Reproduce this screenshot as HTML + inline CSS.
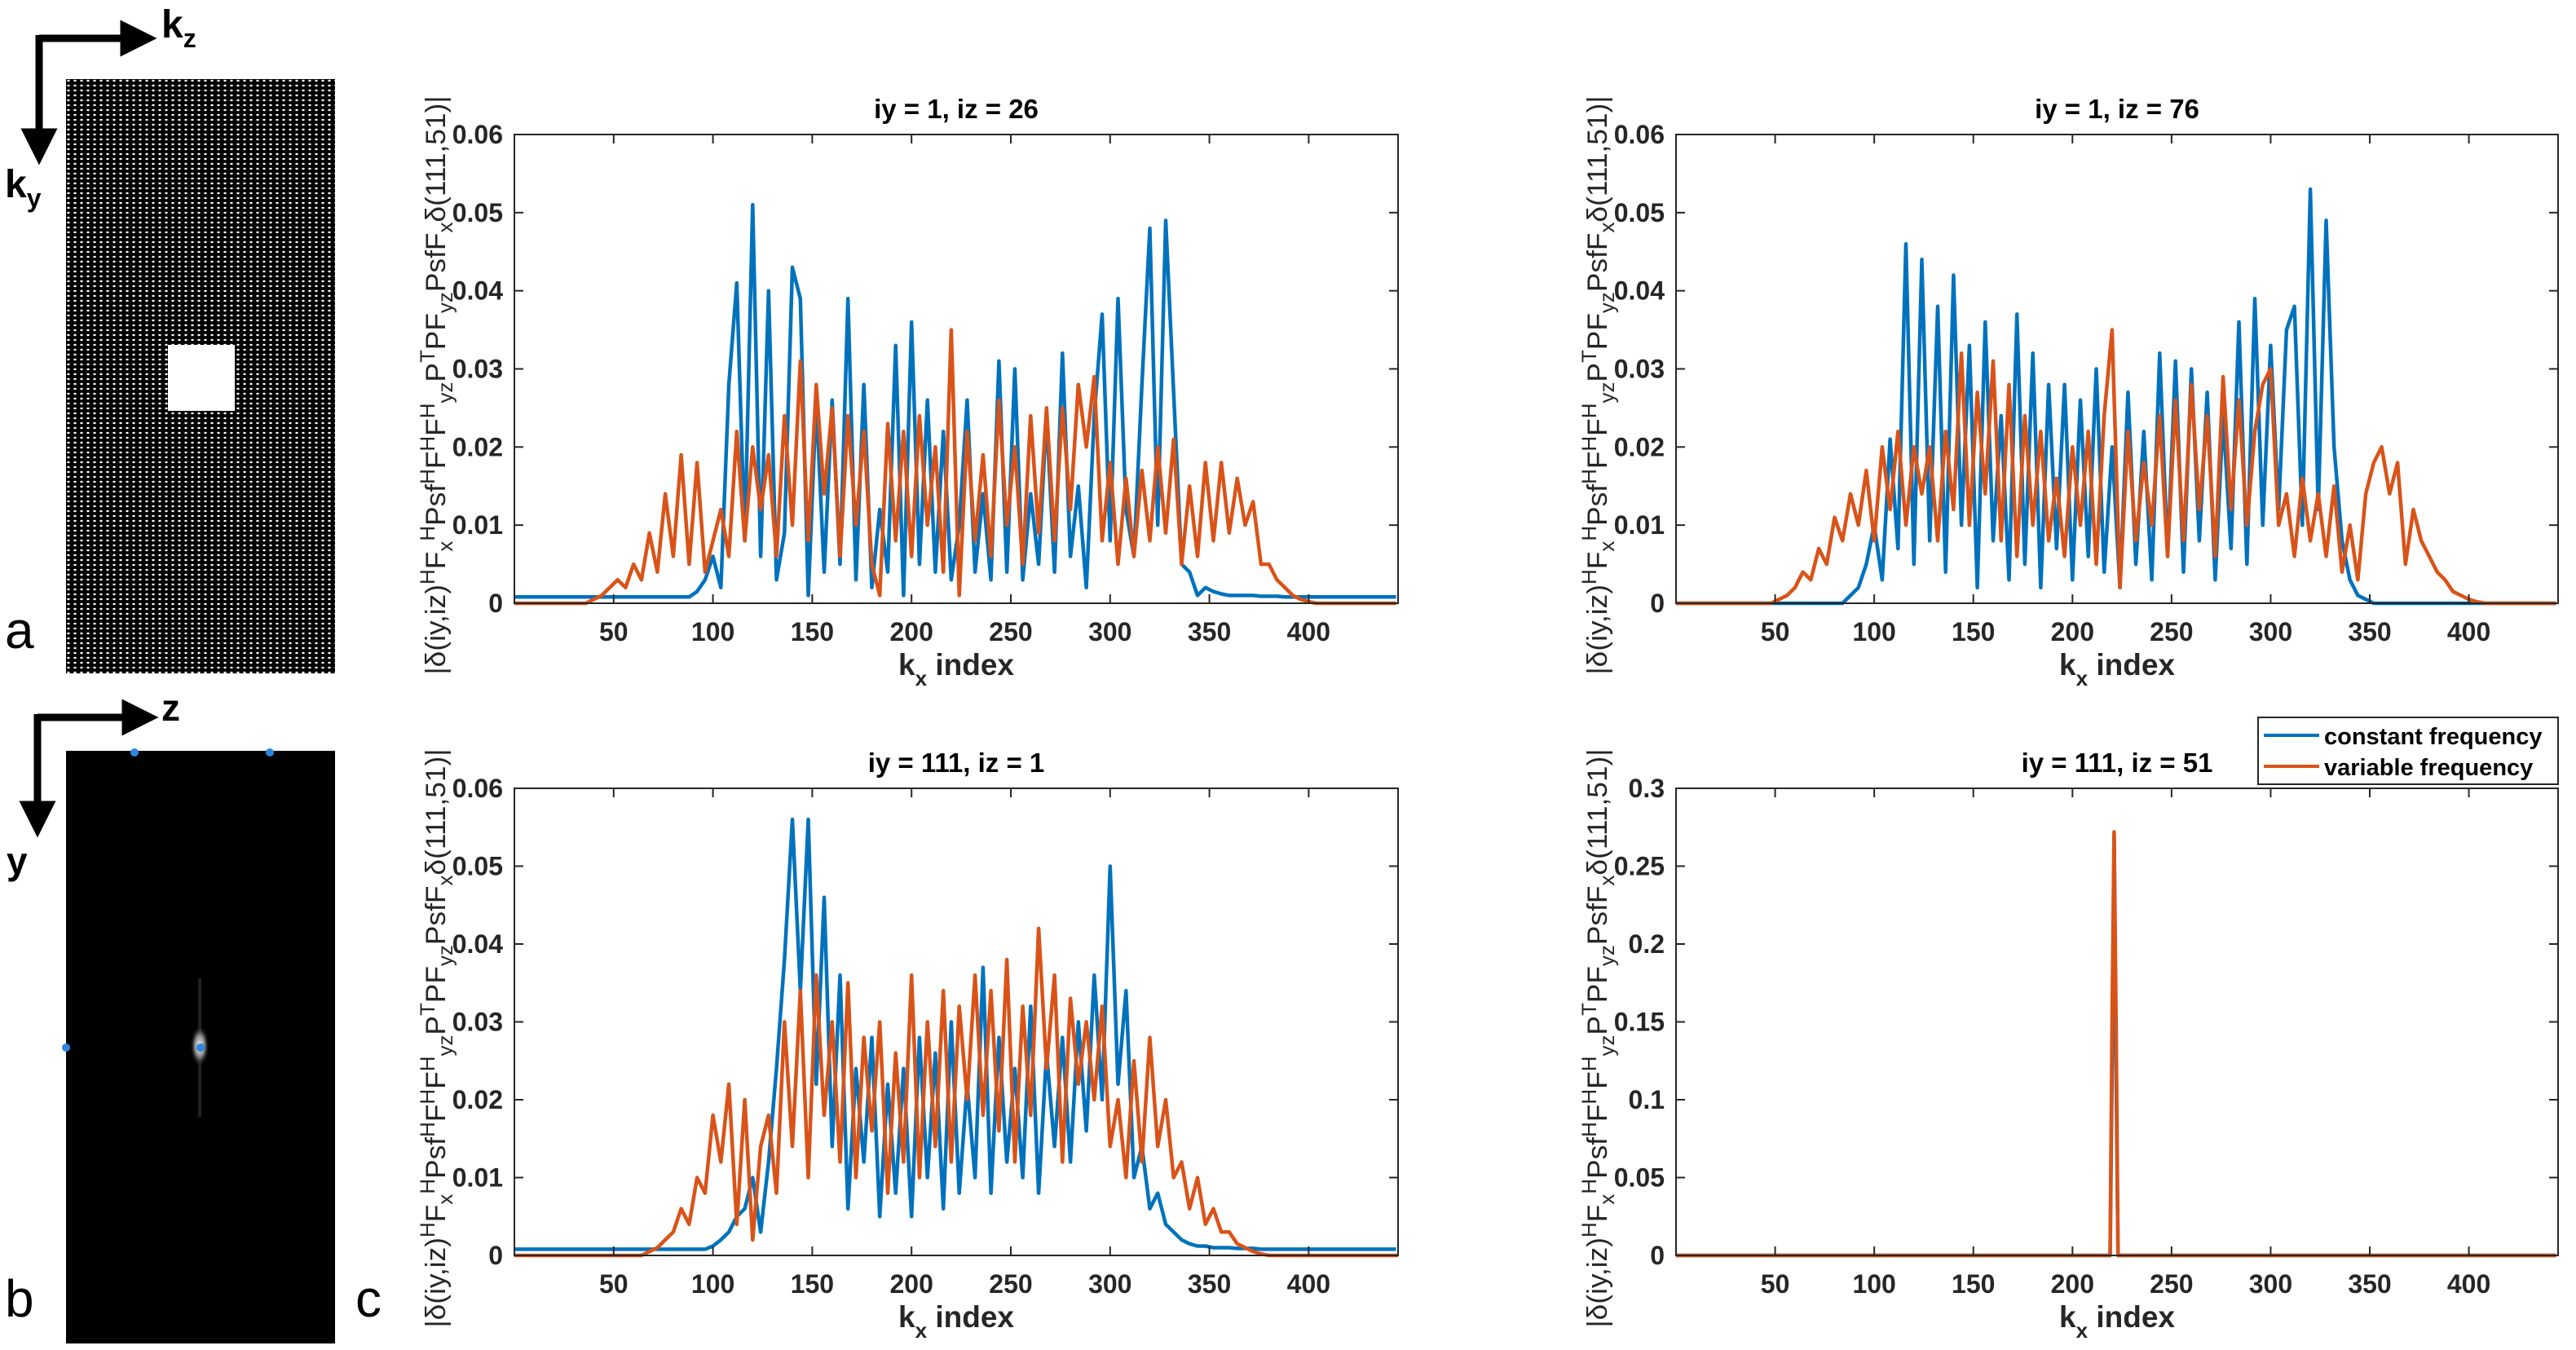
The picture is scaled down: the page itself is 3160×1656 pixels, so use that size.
<!DOCTYPE html>
<html><head><meta charset="utf-8">
<style>
html,body{margin:0;padding:0;background:#fff;}
svg{display:block;font-family:"Liberation Sans",Arial,sans-serif;}
</style></head>
<body>
<svg id="fig" width="3160" height="1656" viewBox="0 0 3160 1656">
<defs>
<pattern id="dots" width="8" height="6" patternUnits="userSpaceOnUse">
<rect width="8" height="6" fill="#000"/>
<ellipse cx="4" cy="3" rx="1.7" ry="1.2" fill="#fff"/>
</pattern>
<marker id="ah" markerWidth="5" markerHeight="5" refX="2.5" refY="2.5" orient="auto" markerUnits="strokeWidth">
<path d="M0,0 L5,2.5 L0,5 z" fill="#000"/>
</marker>
<radialGradient id="spot" cx="50%" cy="50%" r="50%">
<stop offset="0" stop-color="#fff"/><stop offset="0.5" stop-color="#888"/><stop offset="1" stop-color="#000" stop-opacity="0"/>
</radialGradient>
</defs>

<!-- panel a -->
<g>
<rect x="81" y="97" width="330" height="729" fill="url(#dots)"/>
<rect x="206" y="423" width="82" height="81" fill="#fff"/>
<line x1="48" y1="47" x2="170" y2="47" stroke="#000" stroke-width="9" marker-end="url(#ah)"/>
<line x1="48" y1="43" x2="48" y2="180" stroke="#000" stroke-width="9" marker-end="url(#ah)"/>
<text x="198" y="46" font-size="48" font-weight="bold">k<tspan font-size="32" dy="12">z</tspan></text>
<text x="6" y="242" font-size="48" font-weight="bold">k<tspan font-size="32" dy="12">y</tspan></text>
<text x="6" y="795" font-size="64">a</text>
</g>

<!-- panel b -->
<g>
<rect x="81" y="921" width="330" height="727" fill="#000"/>
<rect x="243" y="1200" width="4" height="170" fill="#222"/>
<ellipse cx="245" cy="1283" rx="12" ry="26" fill="url(#spot)"/>
<circle cx="165" cy="923" r="5" fill="#2e86de"/>
<circle cx="331" cy="923" r="5" fill="#2e86de"/>
<circle cx="81" cy="1285" r="5" fill="#2e86de"/>
<circle cx="246" cy="1285" r="5" fill="#2e86de"/>
<line x1="46" y1="880" x2="172" y2="880" stroke="#000" stroke-width="9" marker-end="url(#ah)"/>
<line x1="46" y1="876" x2="46" y2="1005" stroke="#000" stroke-width="9" marker-end="url(#ah)"/>
<text x="198" y="884" font-size="46" font-weight="bold">z</text>
<text x="8" y="1072" font-size="46" font-weight="bold">y</text>
<text x="6" y="1615" font-size="64">b</text>
<text x="436" y="1615" font-size="64">c</text>
</g>

<g id="plots"></g>
</svg>

<script>
// ---- data (values in units of 1e-3; kx index step 4 from 0 unless stated) ----
const xTickLabels = [50,100,150,200,250,300,350,400];
const yTickLabelsA = [0,0.01,0.02,0.03,0.04,0.05,0.06];
const yTickLabelsB = [0,0.05,0.1,0.15,0.2,0.25,0.3];
const titles = ["iy = 1, iz = 26","iy = 1, iz = 76","iy = 111, iz = 1","iy = 111, iz = 51"];
const legendLabels = ["constant frequency","variable frequency"];

const blue1 = [0.8,0.8,0.8,0.8,0.8,0.8,0.8,0.8,0.8,0.8,0.8,0.8,0.8,0.8,0.8,0.8,0.8,0.8,0.8,0.8,0.8,0.8,0.8,
1.5,3,6,2,28,41,8,51,6,40,3,9,43,39,1,26,4,26,5,39,3,28,2,12,4,33,1,36,5,26,4,22,3,10,26,4,14,3,31,4,30,3,14,5,24,4,32,6,15,2,24,37,8,39,12,6,28,48,10,49,27,5,4,1,2,1.5,1.2,
1,1,1,1,0.9,0.9,0.9,0.8,0.8,0.8,0.8,0.8,0.8,0.8,0.8,0.8,0.8,0.8,0.8,0.8,0.8,0.8];
const orange1 = [0,0,0,0,0,0,0,0,0,0,
0.5,1,2,3,2,5,3,9,4,14,6,19,5,18,4,8,12,6,22,8,20,12,19,6,24,10,31,8,28,14,25,6,24,10,22,5,1,23,8,22,6,24,10,20,4,35,1,22,8,19,6,26,10,20,5,24,9,25,8,25,12,28,20,29,8,18,5,16,6,17,8,20,9,21,5,15,6,18,8,18,9,16,10,13,5,5,3,2,1,0.5,0.2,
0,0,0,0,0,0,0,0,0,0,0];
const blue2 = [0,0,0,0,0,0,0,0,0,0,0,0,0,0,0,0,0,0,0,0,0,0,
1,2,5,10,3,21,7,46,5,44,8,38,4,42,10,33,2,36,8,24,3,37,5,32,2,28,7,28,3,26,6,30,4,20,2,27,5,22,3,32,6,31,4,30,8,27,3,24,7,36,5,39,10,33,12,35,38,10,53,12,49,20,8,3,1,0.5,
0,0,0,0,0,0,0,0,0,0,0,0,0,0,0,0,0,0,0,0,0,0,0,0];
const orange2 = [0,0,0,0,0,0,0,0,0,0,0,0,0,
0.5,1,2,4,3,7,5,11,8,14,10,17,8,20,12,22,10,20,14,20,8,22,12,32,10,27,14,31,8,28,6,24,10,22,8,16,6,20,10,22,5,24,35,2,22,8,18,10,24,6,26,8,28,12,24,6,29,12,26,10,22,28,30,10,14,6,16,8,14,6,15,4,10,3,14,18,20,14,18,5,12,8,6,4,3,1.5,1,0.5,0.2,
0,0,0,0,0,0,0,0,0,0];
const blue3 = [0.8,0.8,0.8,0.8,0.8,0.8,0.8,0.8,0.8,0.8,0.8,0.8,0.8,0.8,0.8,0.8,0.8,0.8,0.8,0.8,0.8,0.8,0.8,0.8,0.8,
1.2,2,3,5,6,10,3,12,24,38,56,34,56,22,46,14,36,6,24,12,28,5,22,8,24,5,28,10,26,6,30,8,22,10,37,8,28,12,24,10,32,8,26,14,28,12,30,16,36,20,50,22,34,10,14,6,8,4,3,2,1.5,1.2,1.2,
1,1,1,0.9,0.9,0.9,0.8,0.8,0.8,0.8,0.8,0.8,0.8,0.8,0.8,0.8,0.8,0.8,0.8,0.8,0.8,0.8,0.8,0.8];
const orange3 = [0,0,0,0,0,0,0,0,0,0,0,0,0,0,0,0,0,
0.5,1,2,3,6,4,10,8,18,12,22,4,20,2,14,18,8,30,14,34,10,36,18,30,12,35,10,28,16,30,8,26,12,36,10,30,14,34,12,32,20,36,18,34,16,38,12,32,18,42,24,36,12,33,22,30,20,32,14,20,10,25,12,28,14,20,10,12,6,10,4,6,3,3,1.5,1,0.5,0.2,
0,0,0,0,0,0,0,0,0,0,0,0,0,0,0,0,0,0];
// panel 4 uses explicit kx indices (sparse: single spike)
const kx4 = [0,217,219,220,221,222,223,444];
const blue4 = [0,0,0,120,270,120,0,0];
const orange4 = [0,0,0,150,272,150,0,0];

const panels = [
 {L:631,R:1715,T:165,B:740,ymax:0.06,yt:yTickLabelsA,title:titles[0],b:blue1,o:orange1,ylx:534},
 {L:2056,R:3138,T:165,B:740,ymax:0.06,yt:yTickLabelsA,title:titles[1],b:blue2,o:orange2,ylx:1959},
 {L:631,R:1715,T:967,B:1540,ymax:0.06,yt:yTickLabelsA,title:titles[2],b:blue3,o:orange3,ylx:534},
 {L:2056,R:3138,T:967,B:1540,ymax:0.3,yt:yTickLabelsB,title:titles[3],b:blue4,o:orange4,ylx:1959,kx:kx4}
];
const XMAX = 445;
const NS = "http://www.w3.org/2000/svg";
const root = document.getElementById('plots');
function mk(tag, attrs, parent){
  const e = document.createElementNS(NS, tag);
  for (const k in attrs) e.setAttribute(k, attrs[k]);
  (parent||root).appendChild(e);
  return e;
}
function fmt(v){ return String(v); }

panels.forEach((p, pi) => {
  const g = mk('g', {});
  
  
  const xs = v => p.L + (v / XMAX) * (p.R - p.L);
  const ys = v => p.B - (v / p.ymax) * (p.B - p.T);
  const drawSeries = (vals, color, name) => {
    const pts = vals.map((v, i) => {
      const kx = p.kx ? p.kx[i] : i * 4;
      return xs(Math.min(kx, XMAX)).toFixed(1) + ',' + ys(v / 1000).toFixed(1);
    }).join(' ');
    const pl = mk('polyline', {points: pts, fill: 'none', stroke: color, 'stroke-width': 4.5, 'stroke-linejoin': 'round'}, g);
    
    
  };
  drawSeries(p.b, '#0072BD', 'constant-frequency-line');
  drawSeries(p.o, '#D95319', 'variable-frequency-line');
  const box = mk('rect', {x: p.L, y: p.T, width: p.R - p.L, height: p.B - p.T, fill: 'none', stroke: '#262626', 'stroke-width': 2}, g);
  
  
  xTickLabels.forEach(t => {
    const x = xs(t);
    mk('line', {x1: x, y1: p.B, x2: x, y2: p.B - 11, stroke: '#262626', 'stroke-width': 2}, g);
    mk('line', {x1: x, y1: p.T, x2: x, y2: p.T + 11, stroke: '#262626', 'stroke-width': 2}, g);
    const tx = mk('text', {x: x, y: p.B + 46, 'font-size': 32, 'font-weight': 'bold', 'text-anchor': 'middle', fill: '#262626'}, g);
    tx.textContent = t;
    
    
  });
  p.yt.forEach(t => {
    const y = ys(t);
    mk('line', {x1: p.L, y1: y, x2: p.L + 11, y2: y, stroke: '#262626', 'stroke-width': 2}, g);
    mk('line', {x1: p.R, y1: y, x2: p.R - 11, y2: y, stroke: '#262626', 'stroke-width': 2}, g);
    const ty = mk('text', {x: p.L - 14, y: y + 11, 'font-size': 32, 'font-weight': 'bold', 'text-anchor': 'end', fill: '#262626'}, g);
    ty.textContent = fmt(t);
    
    
  });
  const ti = mk('text', {x: (p.L + p.R) / 2, y: p.T - 20, 'font-size': 33, 'font-weight': 'bold', 'text-anchor': 'middle', fill: '#000'}, g);
  ti.textContent = p.title;
  
  
  const xl = mk('text', {x: (p.L + p.R) / 2, y: p.B + 88, 'font-size': 37, 'font-weight': 'bold', 'text-anchor': 'middle', fill: '#262626'}, g);
  xl.innerHTML = 'k<tspan font-size="26" dy="13">x</tspan><tspan dy="-13"> index</tspan>';
  
  
  const cy = (p.T + p.B) / 2 + 20;
  const yl = mk('text', {x: 0, y: 0, 'font-size': 34, 'text-anchor': 'middle', fill: '#262626',
     transform: 'translate(' + (p.ylx + 12) + ',' + cy + ') rotate(-90)', textLength: 710, lengthAdjust: 'spacingAndGlyphs'}, g);
  yl.innerHTML = '|δ(iy,iz)<tspan dy="-13" font-size="25">H</tspan><tspan dy="13">F</tspan><tspan dy="9" font-size="25">x</tspan><tspan dy="-22" font-size="25">H</tspan><tspan dy="13">Psf</tspan><tspan dy="-13" font-size="25">H</tspan><tspan dy="13">F</tspan><tspan dy="-13" font-size="25">H</tspan><tspan dy="13">F</tspan><tspan dy="-13" font-size="25">H</tspan><tspan dy="22" font-size="25">yz</tspan><tspan dy="-9">P</tspan><tspan dy="-13" font-size="25">T</tspan><tspan dy="13">PF</tspan><tspan dy="9" font-size="25">yz</tspan><tspan dy="-9">PsfF</tspan><tspan dy="9" font-size="25">x</tspan><tspan dy="-9">δ(111,51)|</tspan>';
  
  
});

// legend (panel 4)
const lg = mk('g', {});


mk('rect', {x: 2770, y: 880, width: 368, height: 82, fill: '#fff', stroke: '#262626', 'stroke-width': 2}, lg);
const legendColors = ['#0072BD', '#D95319'];
legendLabels.forEach((lab, i) => {
  const y = 902 + i * 38;
  const ln = mk('line', {x1: 2777, y1: y, x2: 2845, y2: y, stroke: legendColors[i], 'stroke-width': 4}, lg);
  
  
  const t = mk('text', {x: 2851, y: y + 11, 'font-size': 29, 'font-weight': 'bold', fill: '#000'}, lg);
  t.textContent = lab;
  
  
});
</script>
</body></html>
